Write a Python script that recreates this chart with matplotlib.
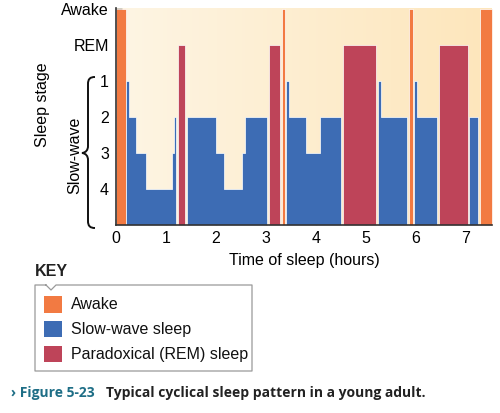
import numpy as np
import matplotlib
matplotlib.use("Agg")
import matplotlib.pyplot as plt
from matplotlib.path import Path
from matplotlib.patches import PathPatch, Rectangle
from matplotlib.colors import LinearSegmentedColormap

plt.rcParams['font.family'] = ['Liberation Sans', 'DejaVu Sans']

# sleep stage levels on the y axis (bottom to top)
stage_labels = ["4", "3", "2", "1", "REM", "Awake"]
stage_level = {"4": 1, "3": 2, "2": 3, "1": 4, "REM": 5, "Awake": 6}

# each run: kind, time edges (hours), stage held in each interval
run_kind = ["Awake", "Slow", "REM", "Slow", "REM", "Awake", "Slow",
            "REM", "Slow", "Awake", "Slow", "REM", "Slow", "Awake"]
run_edges = [
    [0.00, 0.20],
    [0.21, 0.26, 0.40, 0.60, 1.12, 1.16, 1.20],
    [1.24, 1.39],
    [1.42, 2.00, 2.16, 2.52, 2.59, 3.03],
    [3.07, 3.29],
    [3.32, 3.39],
    [3.41, 3.46, 3.81, 4.09, 4.51],
    [4.55, 5.21],
    [5.25, 5.31, 5.83],
    [5.86, 5.95],
    [5.97, 6.02, 6.43],
    [6.46, 7.04],
    [7.07, 7.25],
    [7.28, 7.53],
]
run_stages = [
    ["Awake"],
    ["1", "2", "3", "4", "3", "2"],
    ["REM"],
    ["2", "3", "4", "3", "2"],
    ["REM"],
    ["Awake"],
    ["1", "2", "3", "2"],
    ["REM"],
    ["1", "2"],
    ["Awake"],
    ["1", "2"],
    ["REM"],
    ["2"],
    ["Awake"],
]

x_ticks = [0, 1, 2, 3, 4, 5, 6, 7]
key_labels = ["Awake", "Slow-wave sleep", "Paradoxical (REM) sleep"]
key_kinds = ["Awake", "Slow", "REM"]

colors = {"Awake": "#F27A42", "Slow": "#3D6CB4", "REM": "#BE4459"}

fig = plt.figure(figsize=(5, 4.13), dpi=100)

# overlay in pixel coords for brace, key, caption
ov = fig.add_axes([0, 0, 1, 1])
ov.set_xlim(0, 500)
ov.set_ylim(413, 0)
ov.axis('off')

ax = fig.add_axes([116/500, 1-225/413, (492-116)/500, (225-8)/413])
ax.set_xlim(0, 7.53)
ax.set_ylim(0, 6.04)

# cream gradient background
cmap = LinearSegmentedColormap.from_list("bg", ["#FEF5E4", "#FDE6BB"])
grad = np.linspace(0, 1, 256).reshape(1, -1)
ax.imshow(grad, cmap=cmap, extent=[0, 7.53, 0, 6.04], aspect='auto', zorder=0)

for kind, edges, stages in zip(run_kind, run_edges, run_stages):
    lv = [stage_level[s] for s in stages]
    lv = lv + [lv[-1]]
    ax.fill_between(edges, 0, lv, step='post', facecolor=colors[kind],
                    edgecolor='white', linewidth=0.5, zorder=2)

ax.set_yticks([stage_level[s] for s in stage_labels])
ax.set_yticklabels(stage_labels)
ax.set_xticks(x_ticks)
ax.tick_params(axis='both', direction='in', length=4, width=1, color='#333333',
               labelsize=11.5, pad=5)
ax.tick_params(axis='x', pad=4)
for s in ['top', 'right']:
    ax.spines[s].set_visible(False)
for s in ['left', 'bottom']:
    ax.spines[s].set_color('#333333')
    ax.spines[s].set_linewidth(1.2)
    ax.spines[s].set_zorder(5)
ax.set_xlabel("Time of sleep (hours)", fontsize=11.5, labelpad=5)

ov.text(42, 105, "Sleep stage", rotation=90, fontsize=11.5, ha='center', va='center')
ov.text(75, 155, "Slow-wave", rotation=90, fontsize=11.5, ha='center', va='center')

# curly brace
verts = [(95, 77), (90, 77), (88, 79), (88, 84),
         (88, 146),
         (88, 150), (86, 152.5), (82, 153),
         (86, 153.5), (88, 156), (88, 160),
         (88, 221),
         (88, 226), (90, 228), (95, 228)]
codes = [Path.MOVETO, Path.CURVE4, Path.CURVE4, Path.CURVE4,
         Path.LINETO,
         Path.CURVE4, Path.CURVE4, Path.CURVE4,
         Path.CURVE4, Path.CURVE4, Path.CURVE4,
         Path.LINETO,
         Path.CURVE4, Path.CURVE4, Path.CURVE4]
ov.add_patch(PathPatch(Path(verts, codes), facecolor='none', edgecolor='#111111', lw=1.4))

# key box
ov.text(35, 272, "KEY", fontsize=11.5, fontweight='bold', color='#222222', va='center', ha='left')
box = [(46, 285), (35, 285), (35, 371), (252, 371), (252, 285), (56, 285), (51, 290), (46, 285)]
ov.plot([p[0] for p in box], [p[1] for p in box], color='#999999', lw=0.9)
for i, (lab, kind) in enumerate(zip(key_labels, key_kinds)):
    y0 = 296 + i * 24.8
    ov.add_patch(Rectangle((43.5, y0), 18, 16.5, facecolor=colors[kind], edgecolor='none'))
    ov.text(71, y0 + 8.5, lab, fontsize=11.5, va='center', ha='left', color='#111111')

# caption
ov.text(11, 393, "\u203a Figure 5-23", fontsize=10, fontweight='bold', color='#1E6E86',
        va='center', ha='left', family=['Open Sans', 'DejaVu Sans'])
ov.text(106, 393, "Typical cyclical sleep pattern in a young adult.", fontsize=10,
        fontweight='bold', color='#222222', va='center', ha='left',
        family=['Open Sans', 'DejaVu Sans'])

fig.savefig("out.png", dpi=100)
